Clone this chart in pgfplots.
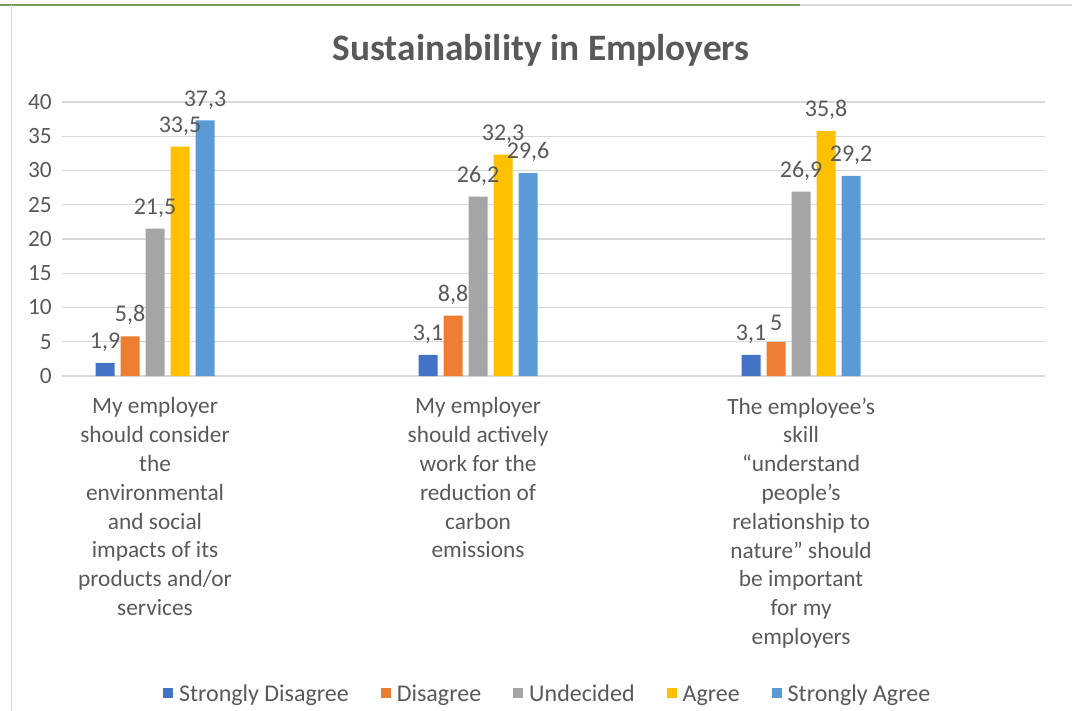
\documentclass[border=0pt]{standalone}
\usepackage{pgfplots}
\pgfplotsset{compat=1.18}
\usepackage{fontspec}
\setmainfont{Carlito}
\definecolor{cA}{HTML}{4472C4}
\definecolor{cB}{HTML}{ED7D31}
\definecolor{cC}{HTML}{A5A5A5}
\definecolor{cD}{HTML}{FFC000}
\definecolor{cE}{HTML}{5B9BD5}
\definecolor{txt}{HTML}{595959}
\definecolor{gridc}{HTML}{D9D9D9}
\definecolor{frameg}{HTML}{7A9A5A}
\begin{document}
\begin{tikzpicture}[x=1pt,y=1pt]
\path[use as bounding box] (0,0) rectangle (804,533.25);
\draw[frameg, line width=1.2pt] (0,529.5) -- (600,529.5);
\draw[gridc, line width=1pt] (600,529.5) -- (804,529.5);
\draw[gridc, line width=1pt] (8.8,529.5) -- (8.8,0);
\node[font=\bfseries\fontsize{28}{32}\selectfont, text=txt] at (405.75,495.75) {Sustainability in Employers};
\begin{axis}[
  at={(46.5pt,251.25pt)}, anchor=south west,
  width=737.25pt, height=205.5pt, scale only axis,
  ymin=0, ymax=40, ytick={0,5,...,40},
  xmin=-0.288, xmax=2.755, xtick={0,1,2},
  xticklabels={{My employer\\should consider\\the\\environmental\\and social\\impacts of its\\products and/or\\services},
               {My employer\\should actively\\work for the\\reduction of\\carbon\\emissions},
               {The employee’s\\skill\\“understand\\people’s\\relationship to\\nature” should\\be important\\for my\\employers}},
  ybar=4.5pt, bar width=14.25pt,
  axis x line*=bottom, axis y line*=left,
  x axis line style={draw=gridc, line width=1pt},
  y axis line style={draw=none},
  major tick length=0pt,
  ymajorgrids, grid style={draw=gridc, line width=1pt},
  tick label style={font=\fontsize{17.5}{21.6}\selectfont, text=txt},
  yticklabel style={inner sep=0pt, anchor=east, xshift=-7.5pt},
  xticklabel style={align=center, anchor=north, inner sep=0pt, yshift=-16pt},
  /pgf/number format/use comma,
  /pgf/number format/assume math mode=true,
  nodes near coords,
  every node near coord/.append style={font=\fontsize{18}{20}\selectfont, text=txt, yshift=5pt},
  legend style={at={(0.4944,-1.157)}, anchor=center, draw=none, legend columns=-1,
    font=\fontsize{18}{20}\selectfont, text=txt, inner sep=0pt,
    /tikz/every even column/.append style={column sep=22pt}},
  legend image code/.code={\fill[#1] (0pt,-4pt) rectangle (7.5pt,4pt); \path (0pt,0pt) -- (10pt,0pt);},
]
\addplot[fill=cA, draw=none] coordinates {(0,1.9) (1,3.1) (2,3.1)};
\addplot[fill=cB, draw=none] coordinates {(0,5.8) (1,8.8) (2,5)};
\addplot[fill=cC, draw=none] coordinates {(0,21.5) (1,26.2) (2,26.9)};
\addplot[fill=cD, draw=none] coordinates {(0,33.5) (1,32.3) (2,35.8)};
\addplot[fill=cE, draw=none] coordinates {(0,37.3) (1,29.6) (2,29.2)};
\legend{\strut Strongly Disagree, \strut Disagree, \strut Undecided, \strut Agree, \strut Strongly Agree}
\end{axis}
\end{tikzpicture}
\end{document}
